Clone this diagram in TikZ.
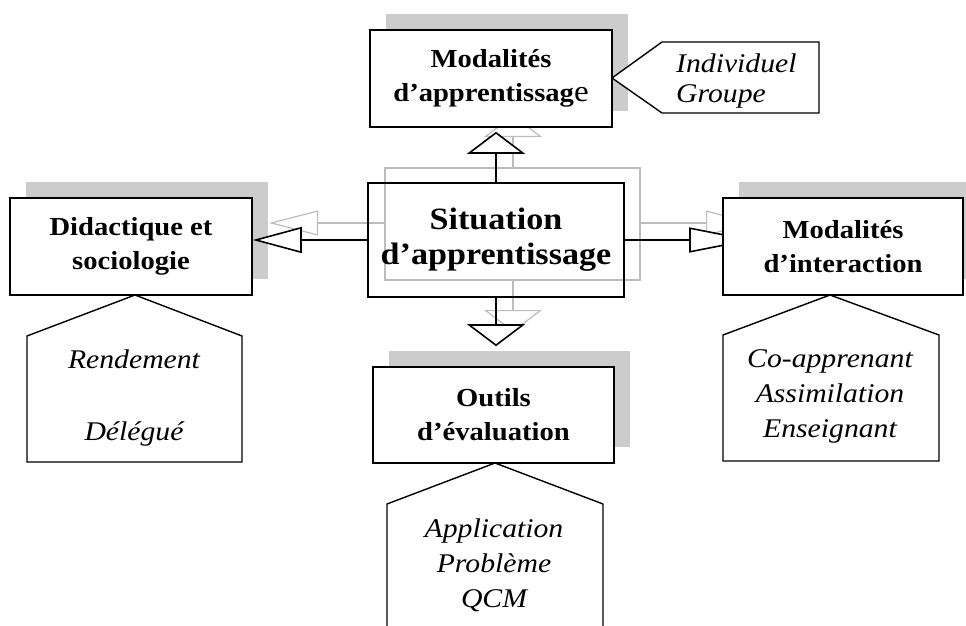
\documentclass[tikz,border=0pt]{standalone}
\usepackage{fontspec}
\setmainfont[FakeStretch=1.1]{Liberation Serif}
\usetikzlibrary{arrows.meta,calc,shadows}
\pgfdeclarelayer{bg}
\pgfsetlayers{bg,main}
\definecolor{shade}{gray}{0.80}
\definecolor{ghost}{gray}{0.74}
\begin{document}
\begin{tikzpicture}[x=1pt,y=-1pt,
  box/.style={draw, line width=1.6pt, fill=white, inner sep=0pt,
    align=center, font=\fontsize{26}{34}\selectfont\bfseries,
    drop shadow={shadow xshift=16pt, shadow yshift=16pt, fill=shade, opacity=1}},
  hub/.style={draw, line width=1.6pt, inner sep=0pt, align=center,
    font=\fontsize{31}{35}\selectfont\bfseries},
  callout/.style={draw, line width=1.4pt, fill=white, line join=miter},
  listtext/.style={inner sep=0pt, font=\fontsize{27}{35}\selectfont\itshape},
  link/.style={line width=1.6pt},
  ghostlink/.style={draw=ghost, line width=1.2pt},
  headv/.style={-{Triangle[open, fill=white, length=22pt, width=58pt, line width=1.6pt]}},
  headh/.style={-{Triangle[open, fill=white, length=49pt, width=26pt, line width=1.6pt]}},
  ghostv/.style={-{Triangle[open, fill=white, length=22pt, width=58pt, line width=1.2pt]}},
  ghosth/.style={-{Triangle[open, fill=white, length=49pt, width=25pt, line width=1.2pt]}},
]
\useasboundingbox (0,0) rectangle (966,626);
\clip (0,0) rectangle (966,626);

% central situation and the four surrounding boxes
\node[hub, minimum width=256pt, minimum height=114pt] (sit) at (496,240)
  {Situation\\d’apprentissage};
\node[box, minimum width=242pt, minimum height=97pt] (mapp) at (491,78.5)
  {Modalités\\d’apprentissag{\mdseries\fontsize{30}{34}\selectfont e}};
\node[box, minimum width=242pt, minimum height=97pt] (did) at (131,246.5)
  {Didactique et\\sociologie};
\node[box, minimum width=240pt, minimum height=97pt] (mint) at (843,246.5)
  {Modalités\\d’interaction};
\node[box, minimum width=241pt, minimum height=96pt] (outil) at (493.5,415)
  {Outils\\d’évaluation};

% offset grey frame with its own connectors, behind everything
\begin{pgfonlayer}{bg}
  \coordinate (gnw) at (385,168);
  \coordinate (gse) at (640,280);
  \draw[ghostlink] (gnw) rectangle (gse);
  \coordinate (gtop) at (513,168);
  \coordinate (gbot) at (513,280);
  \coordinate (gleft) at (385,223);
  \coordinate (gright) at (640,223);
  \draw[ghostlink, ghostv] (gtop) -- (513,115);
  \draw[ghostlink, ghostv] (gbot) -- (513,332);
  \draw[ghostlink, ghosth] (gleft) -- (269,223);
  \draw[ghostlink, ghosth] (gright) -- (755,223);
  % right connector: its tip runs under the box
  \draw[link, -{Triangle[open, fill=white, length=65pt, width=25pt, line width=1.6pt]}]
    (sit.east) -- ($(sit.east -| mint.west)+(32,0)$);
\end{pgfonlayer}

% black connectors from the hub
\draw[link, headv] (sit.north) -- ($(sit.north |- mapp.south)+(0,4)$);
\draw[link, headv] (sit.south) -- ($(sit.south |- outil.north)+(0,-20)$);
\draw[link, headh] (sit.west) -- (sit.west -| did.east);

% pointed label panels
\draw[callout] (612,78) -- (662,42) -- (819,42) -- (819,113) -- (662,113) -- cycle;
\draw[callout] (135,295) -- (242,336) -- (242,462) -- (27,462) -- (27,336) -- cycle;
\draw[callout] (830,295) -- (939,335) -- (939,461) -- (723,461) -- (723,335) -- cycle;
\draw[callout] (495,463) -- (603,504) -- (603,660) -- (387,660) -- (387,504) -- cycle;

\node[listtext, align=left, anchor=west, font=\fontsize{27}{30}\selectfont\itshape]
  (indiv) at (676,81) {Individuel\\Groupe};
\node[listtext, align=center, font=\fontsize{27}{36}\selectfont\itshape]
  (rend) at (134,398) {Rendement\\[36pt]Délégué};
\node[listtext, align=center] (coap) at (830,396)
  {Co-apprenant\\Assimilation\\Enseignant};
\node[listtext, align=center] (appl) at (494,565)
  {Application\\Problème\\QCM};
\end{tikzpicture}
\end{document}
